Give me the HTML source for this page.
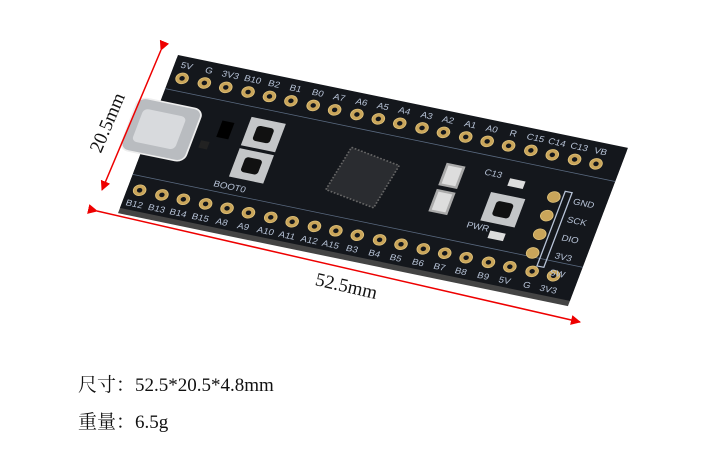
<!DOCTYPE html>
<html><head><meta charset="utf-8"><style>
html,body{margin:0;padding:0;background:#fff;}
body{width:719px;height:453px;overflow:hidden;position:relative;font-family:"Liberation Serif","Noto Serif CJK SC",serif;}
.t{position:absolute;left:78px;font-size:19px;color:#111;}
</style></head><body>
<svg width="719" height="453" style="position:absolute;left:0;top:0">
<defs>
<marker id="ar" markerWidth="10" markerHeight="10" refX="9" refY="5" orient="auto" markerUnits="userSpaceOnUse"><path d="M0,0 L10,5 L0,10 z" fill="#e00"/></marker>
<marker id="al" markerWidth="10" markerHeight="10" refX="1" refY="5" orient="auto" markerUnits="userSpaceOnUse"><path d="M10,0 L0,5 L10,10 z" fill="#e00"/></marker>
</defs>
<!-- shadow/edge -->
<g transform="matrix(0.857,0.177,-0.283,0.746,178,55)">
<rect x="0" y="4" width="525" height="208" fill="#444"/>
<rect x="0" y="0" width="525" height="205" fill="#14171c"/>
<line x1="0" y1="45" x2="525" y2="45" stroke="#5a6a80" stroke-width="1"/>
<line x1="0" y1="160" x2="525" y2="160" stroke="#5a6a80" stroke-width="1"/>
<g fill="#c9a55a" stroke="#e0c27a" stroke-width="1">
<circle cx="14" cy="28" r="7"/><circle cx="40" cy="28" r="7"/><circle cx="65" cy="28" r="7"/><circle cx="91" cy="28" r="7"/><circle cx="116" cy="28" r="7"/><circle cx="141" cy="28" r="7"/><circle cx="167" cy="28" r="7"/><circle cx="192" cy="28" r="7"/><circle cx="218" cy="28" r="7"/><circle cx="243" cy="28" r="7"/><circle cx="268" cy="28" r="7"/><circle cx="294" cy="28" r="7"/><circle cx="319" cy="28" r="7"/><circle cx="345" cy="28" r="7"/><circle cx="370" cy="28" r="7"/><circle cx="395" cy="28" r="7"/><circle cx="421" cy="28" r="7"/><circle cx="446" cy="28" r="7"/><circle cx="472" cy="28" r="7"/><circle cx="497" cy="28" r="7"/>
<circle cx="14" cy="178" r="7"/><circle cx="40" cy="178" r="7"/><circle cx="65" cy="178" r="7"/><circle cx="91" cy="178" r="7"/><circle cx="116" cy="178" r="7"/><circle cx="141" cy="178" r="7"/><circle cx="167" cy="178" r="7"/><circle cx="192" cy="178" r="7"/><circle cx="218" cy="178" r="7"/><circle cx="243" cy="178" r="7"/><circle cx="268" cy="178" r="7"/><circle cx="294" cy="178" r="7"/><circle cx="319" cy="178" r="7"/><circle cx="345" cy="178" r="7"/><circle cx="370" cy="178" r="7"/><circle cx="395" cy="178" r="7"/><circle cx="421" cy="178" r="7"/><circle cx="446" cy="178" r="7"/><circle cx="472" cy="178" r="7"/><circle cx="497" cy="178" r="7"/>
<circle cx="465" cy="80" r="7"/><circle cx="465" cy="105" r="7"/><circle cx="465" cy="130" r="7"/><circle cx="465" cy="155" r="7"/>
</g>
<g fill="#14171c"><circle cx="14" cy="28" r="3"/><circle cx="40" cy="28" r="3"/><circle cx="65" cy="28" r="3"/><circle cx="91" cy="28" r="3"/><circle cx="116" cy="28" r="3"/><circle cx="141" cy="28" r="3"/><circle cx="167" cy="28" r="3"/><circle cx="192" cy="28" r="3"/><circle cx="218" cy="28" r="3"/><circle cx="243" cy="28" r="3"/><circle cx="268" cy="28" r="3"/><circle cx="294" cy="28" r="3"/><circle cx="319" cy="28" r="3"/><circle cx="345" cy="28" r="3"/><circle cx="370" cy="28" r="3"/><circle cx="395" cy="28" r="3"/><circle cx="421" cy="28" r="3"/><circle cx="446" cy="28" r="3"/><circle cx="472" cy="28" r="3"/><circle cx="497" cy="28" r="3"/>
<circle cx="14" cy="178" r="3"/><circle cx="40" cy="178" r="3"/><circle cx="65" cy="178" r="3"/><circle cx="91" cy="178" r="3"/><circle cx="116" cy="178" r="3"/><circle cx="141" cy="178" r="3"/><circle cx="167" cy="178" r="3"/><circle cx="192" cy="178" r="3"/><circle cx="218" cy="178" r="3"/><circle cx="243" cy="178" r="3"/><circle cx="268" cy="178" r="3"/><circle cx="294" cy="178" r="3"/><circle cx="319" cy="178" r="3"/><circle cx="345" cy="178" r="3"/><circle cx="370" cy="178" r="3"/><circle cx="395" cy="178" r="3"/><circle cx="421" cy="178" r="3"/><circle cx="446" cy="178" r="3"/><circle cx="472" cy="178" r="3"/><circle cx="497" cy="178" r="3"/></g>
<g font-family="Liberation Sans,sans-serif" font-size="11" fill="#b8c4d8" text-anchor="middle">
<text x="14" y="15">5V</text><text x="40" y="15">G</text><text x="65" y="15">3V3</text><text x="91" y="15">B10</text><text x="116" y="15">B2</text><text x="141" y="15">B1</text><text x="167" y="15">B0</text><text x="192" y="15">A7</text><text x="218" y="15">A6</text><text x="243" y="15">A5</text><text x="268" y="15">A4</text><text x="294" y="15">A3</text><text x="319" y="15">A2</text><text x="345" y="15">A1</text><text x="370" y="15">A0</text><text x="395" y="15">R</text><text x="421" y="15">C15</text><text x="446" y="15">C14</text><text x="472" y="15">C13</text><text x="497" y="15">VB</text>
<text x="14" y="200">B12</text><text x="40" y="200">B13</text><text x="65" y="200">B14</text><text x="91" y="200">B15</text><text x="116" y="200">A8</text><text x="141" y="200">A9</text><text x="167" y="200">A10</text><text x="192" y="200">A11</text><text x="218" y="200">A12</text><text x="243" y="200">A15</text><text x="268" y="200">B3</text><text x="294" y="200">B4</text><text x="319" y="200">B5</text><text x="345" y="200">B6</text><text x="370" y="200">B7</text><text x="395" y="200">B8</text><text x="421" y="200">B9</text><text x="446" y="200">5V</text><text x="472" y="200">G</text><text x="497" y="200">3V3</text>
<text x="500" y="84">GND</text><text x="500" y="108">SCK</text><text x="500" y="132">DIO</text><text x="500" y="156">3V3</text><text x="500" y="178">SW</text>
<text x="110" y="154">BOOT0</text><text x="395" y="140">PWR</text><text x="390" y="70">C13</text>
</g>
<rect x="475" y="70" width="8" height="100" fill="none" stroke="#b8c4d8" stroke-width="1.5"/>
<!-- USB-C -->
<rect x="-25" y="62" width="75" height="70" rx="10" fill="#b9bcc0" stroke="#eee" stroke-width="2"/>
<rect x="-15" y="75" width="50" height="44" rx="6" fill="#d8dadd"/>
<!-- buttons -->
<rect x="105" y="58" width="40" height="38" fill="#c4c6c8"/><rect x="115" y="67" width="20" height="20" rx="4" fill="#111"/>
<rect x="105" y="100" width="40" height="38" fill="#c4c6c8"/><rect x="115" y="109" width="20" height="20" rx="4" fill="#111"/>
<rect x="395" y="90" width="40" height="38" fill="#c4c6c8"/><rect x="405" y="99" width="20" height="20" rx="4" fill="#111"/>
<!-- chip -->
<rect x="220" y="75" width="60" height="60" fill="#2a2c30" stroke="#666" stroke-width="2" stroke-dasharray="2 2" transform="rotate(10 250 105)"/>
<rect x="335" y="65" width="22" height="30" fill="#aaa"/><rect x="338" y="68" width="16" height="24" fill="#ddd"/>
<rect x="335" y="100" width="22" height="30" fill="#aaa"/><rect x="338" y="103" width="16" height="24" fill="#ddd"/>
<rect x="410" y="68" width="18" height="10" fill="#ddd"/><rect x="410" y="138" width="18" height="10" fill="#ddd"/>
<rect x="75" y="70" width="14" height="22" fill="#000"/><rect x="60" y="100" width="10" height="10" fill="#222"/>
</g>
<!-- dimension arrows -->
<line x1="161" y1="50" x2="102" y2="190" stroke="#e00" stroke-width="1.5" marker-start="url(#ar)" marker-end="url(#ar)"/>
<line x1="97" y1="211" x2="580" y2="322" stroke="#e00" stroke-width="1.5" marker-start="url(#ar)" marker-end="url(#ar)"/>
<text x="0" y="0" font-family="Liberation Serif,serif" font-size="19" fill="#111" text-anchor="middle" transform="translate(113,125) rotate(-67)">20.5mm</text>
<text x="0" y="0" font-family="Liberation Serif,serif" font-size="19" fill="#111" text-anchor="middle" transform="translate(345,292) rotate(13)">52.5mm</text>
</svg>
<div class="t" style="top:370px">尺寸：52.5*20.5*4.8mm</div>
<div class="t" style="top:407px">重量：6.5g</div>
</body></html>
